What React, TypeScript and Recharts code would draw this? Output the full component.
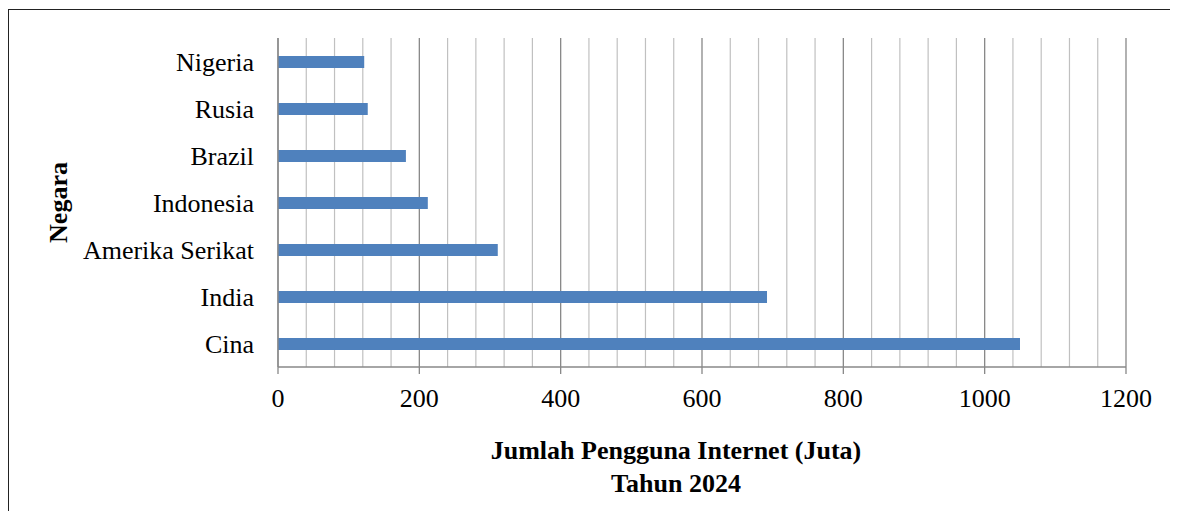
import React from 'react';
import { BarChart, Bar, XAxis, YAxis, CartesianGrid, Label } from 'recharts';

if (typeof document !== 'undefined') {
  document.documentElement.style.overflow = 'hidden';
  document.body.style.overflow = 'hidden';
}

const countries = ['Nigeria', 'Rusia', 'Brazil', 'Indonesia', 'Amerika Serikat', 'India', 'Cina'];
const users = [122, 127, 181, 212, 311, 692, 1050];
const majorTicks = [0, 200, 400, 600, 800, 1000, 1200];
const gridTicks = [
  0, 40, 80, 120, 160, 200, 240, 280, 320, 360, 400, 440, 480, 520, 560, 600,
  640, 680, 720, 760, 800, 840, 880, 920, 960, 1000, 1040, 1080, 1120, 1160, 1200,
];
const xTitle1 = 'Jumlah Pengguna Internet (Juta)';
const xTitle2 = 'Tahun 2024';
const yTitle = 'Negara';

const data = countries.map((c, i) => ({ negara: c, pengguna: users[i] }));

const FONT = '"Liberation Serif", "Times New Roman", serif';

const gridGen = (args: any) => {
  const xAxis = args && args.xAxis;
  if (xAxis && typeof xAxis.scale === 'function') {
    return gridTicks.map((t) => xAxis.scale(t));
  }
  const off = (args && args.offset) || {};
  return gridTicks.map((t) => off.left + (t / 1200) * off.width);
};

const GridLine = (props: any) => {
  const v = gridTicks[props.index];
  const major = majorTicks.includes(v);
  return (
    <line
      x1={props.x1}
      y1={props.y1}
      x2={props.x2}
      y2={props.y2}
      stroke={major ? '#888888' : '#c0c0c0'}
      strokeWidth={major ? 1.3 : 1.2}
      fill="none"
    />
  );
};

const XTitle = (props: any) => {
  const vb = props.viewBox || {};
  const cx = vb.x + vb.width / 2 - 26;
  return (
    <g>
      <text x={cx} y={vb.y + 92} textAnchor="middle" fontFamily={FONT} fontSize={26} fontWeight="bold" fill="#000">
        {xTitle1}
      </text>
      <text x={cx} y={vb.y + 125} textAnchor="middle" fontFamily={FONT} fontSize={26} fontWeight="bold" fill="#000">
        {xTitle2}
      </text>
    </g>
  );
};

const YTitle = (props: any) => {
  const vb = props.viewBox || {};
  const x = vb.x + 59;
  const y = vb.y + vb.height / 2;
  return (
    <text
      x={x}
      y={y}
      transform={`rotate(-90, ${x}, ${y})`}
      textAnchor="middle"
      fontFamily={FONT}
      fontSize={26}
      fontWeight="bold"
      fill="#000"
    >
      {yTitle}
    </text>
  );
};

export default function App() {
  return (
    <div style={{ position: 'relative', width: 1170, height: 503 }}>
      <div
        style={{
          position: 'absolute',
          left: 0,
          top: 1,
          width: 1170,
          height: 502,
          borderTop: '1px solid #222',
          borderLeft: '1px solid #222',
          boxSizing: 'border-box',
          pointerEvents: 'none',
        }}
      />
      <BarChart
        width={1170}
        height={503}
        data={data}
        layout="vertical"
        margin={{ top: 30, right: 52, left: 0, bottom: 84 }}
        barSize={12}
        style={{ fontFamily: FONT }}
      >
        <CartesianGrid
          horizontal={false}
          vertical={(p: any) => <GridLine key={`g-${p.index}`} {...p} />}
          verticalCoordinatesGenerator={gridGen}
          syncWithTicks={false}
        />
        <XAxis
          type="number"
          domain={[0, 1200]}
          ticks={majorTicks}
          interval={0}
          height={60}
          axisLine={{ stroke: '#888888', strokeWidth: 1.3 }}
          tickLine={{ stroke: '#888888', strokeWidth: 1.3 }}
          tickSize={7}
          tickMargin={15}
          tick={{ fill: '#000', fontSize: 26, fontFamily: FONT }}
        >
          <Label content={<XTitle />} />
        </XAxis>
        <YAxis
          type="category"
          dataKey="negara"
          width={270}
          axisLine={{ stroke: '#888888', strokeWidth: 1.3 }}
          tickLine={false}
          tickSize={0}
          tickMargin={24}
          interval={0}
          tick={{ fill: '#000', fontSize: 26, fontFamily: FONT }}
        >
          <Label content={<YTitle />} />
        </YAxis>
        <Bar dataKey="pengguna" fill="#4f81bd" isAnimationActive={false} />
      </BarChart>
    </div>
  );
}
